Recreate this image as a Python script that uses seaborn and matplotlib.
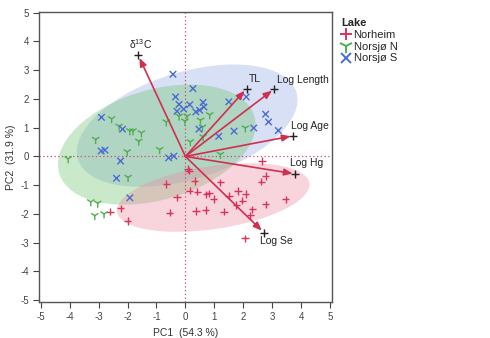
import numpy as np
import pandas as pd
import matplotlib
matplotlib.use("Agg")
import matplotlib.pyplot as plt
from matplotlib.patches import Ellipse
import seaborn as sns

# PCA scores per lake
norheim_pc1 = [2.64, 0.12, 2.77, 2.62, 0.32, 1.21, 0.15, 0.41, 0.72, 0.81, 0.98, 1.50, 1.81, 2.08,
               1.97, 1.76, 2.31, 2.24, 0.36, 0.70, 1.33, 2.77, 3.46, 2.06, -0.66, -0.29, -2.61,
               -2.24, -2.00, -0.54, 0.09]
norheim_pc2 = [-0.16, -0.50, -0.68, -0.88, -0.86, -0.90, -1.19, -1.23, -1.32, -1.28, -1.48, -1.37,
               -1.20, -1.31, -1.54, -1.69, -1.84, -2.05, -1.90, -1.86, -1.92, -1.67, -1.49, -2.85,
               -0.96, -1.42, -1.92, -1.81, -2.25, -1.96, -0.44]

norsjo_n_pc1 = [-2.55, -2.29, -1.92, -1.81, -1.52, -1.61, -3.10, -2.01, -0.89, -0.66, -0.22, 0.06,
                -4.05, -0.02, 0.52, 0.84, 0.59, 0.17, 0.61, 2.07, 1.21, -1.98, -3.27, -3.03,
                -3.13, -2.81]
norsjo_n_pc2 = [1.31, 1.05, 0.89, 0.89, 0.82, 0.53, 0.59, 0.16, 0.24, 1.20, 1.40, 1.40,
                -0.08, 1.23, 1.26, 1.45, 1.02, 0.51, 0.68, 0.99, 0.07, -0.73, -1.58, -1.63,
                -2.06, -2.00]

norsjo_s_pc1 = [-0.43, -0.34, -0.22, -0.06, -0.29, 0.15, 0.61, 0.36, 0.49, 0.64, 1.50, 0.26,
                2.10, -2.90, -2.17, -2.91, -2.78, -0.58, -0.40, -2.24, 0.47, 1.15, 1.68, 2.36,
                2.77, 2.87, 3.21, -2.38, -1.92]
norsjo_s_pc2 = [2.86, 2.07, 1.81, 1.65, 1.57, 1.80, 1.88, 1.55, 1.61, 1.72, 1.90, 2.36,
                2.07, 1.36, 0.95, 0.19, 0.22, -0.05, 0.01, -0.16, 0.95, 0.70, 0.88, 0.99,
                1.47, 1.20, 0.90, -0.76, -1.44]

# Density ellipses per lake: centre, full axis lengths, rotation (deg)
ellipse_lakes = ["Norsjø S", "Norsjø N", "Norheim"]
ellipse_cx = [0.06, -0.99, 0.96]
ellipse_cy = [1.07, 0.41, -1.43]
ellipse_w = [7.90, 7.03, 6.72]
ellipse_h = [3.72, 3.83, 2.19]
ellipse_angle = [17.3, 16.5, 8.6]

# Variable loadings (biplot rays)
var_names = ["δ$^{13}$C", "TL", "Log Length", "Log Age", "Log Hg", "Log Se"]
load_pc1 = [-1.63, 2.11, 3.07, 3.73, 3.80, 2.71]
load_pc2 = [3.52, 2.36, 2.35, 0.72, -0.61, -2.65]

lakes = ["Norheim", "Norsjø N", "Norsjø S"]
lake_colors = {"Norheim": "#d8345c", "Norsjø N": "#4fae4f", "Norsjø S": "#4a6bd0"}
fill_colors = {"Norheim": "#ec8aa0", "Norsjø N": "#6cc46c", "Norsjø S": "#93a9e6"}
lake_markers = {"Norheim": "+", "Norsjø N": "1", "Norsjø S": "x"}
lake_sizes = {"Norheim": 28, "Norsjø N": 42, "Norsjø S": 22}

df = pd.concat([
    pd.DataFrame({"PC1": norheim_pc1, "PC2": norheim_pc2, "Lake": "Norheim"}),
    pd.DataFrame({"PC1": norsjo_n_pc1, "PC2": norsjo_n_pc2, "Lake": "Norsjø N"}),
    pd.DataFrame({"PC1": norsjo_s_pc1, "PC2": norsjo_s_pc2, "Lake": "Norsjø S"}),
], ignore_index=True)

sns.set_style("ticks")
plt.rcParams["font.family"] = ["Liberation Sans", "DejaVu Sans"]
plt.rcParams["mathtext.fontset"] = "custom"
plt.rcParams["mathtext.rm"] = "Liberation Sans"
plt.rcParams["mathtext.it"] = "Liberation Sans:italic"
plt.rcParams["axes.unicode_minus"] = False

fig = plt.figure(figsize=(4.9, 3.38), dpi=100)
ax = fig.add_axes([0.080, 0.107, 0.598, 0.857])

for lake, cx, cy, w, h, ang in zip(ellipse_lakes, ellipse_cx, ellipse_cy,
                                   ellipse_w, ellipse_h, ellipse_angle):
    ax.add_patch(Ellipse((cx, cy), w, h, angle=ang, facecolor=fill_colors[lake],
                         edgecolor="none", alpha=0.36, zorder=1))

ax.axhline(0, color="#d04a6a", lw=0.9, ls=(0, (1, 2)), zorder=2)
ax.axvline(0, color="#d04a6a", lw=0.9, ls=(0, (1, 2)), zorder=2)

sns.scatterplot(data=df, x="PC1", y="PC2", hue="Lake", style="Lake", size="Lake",
                hue_order=lakes, style_order=lakes, size_order=lakes,
                palette=lake_colors, markers=lake_markers, sizes=lake_sizes, linewidth=1.0,
                legend=False, ax=ax, zorder=3)

ray_color = "#d0304f"
for name, lx, ly in zip(var_names, load_pc1, load_pc2):
    ax.annotate("", xy=(lx, ly), xytext=(0, 0),
                arrowprops=dict(arrowstyle="-|>,head_length=0.5,head_width=0.2",
                                color=ray_color, lw=1.2, shrinkA=0, shrinkB=2),
                zorder=4)
ax.scatter(load_pc1, load_pc2, marker="+", color="#222222", s=36, linewidth=1.0, zorder=5)

label_offsets = {
    "δ$^{13}$C": (0.08, 0.15, "center", "bottom"),
    "TL": (0.08, 0.15, "left", "bottom"),
    "Log Length": (0.08, 0.13, "left", "bottom"),
    "Log Age": (-0.1, 0.18, "left", "bottom"),
    "Log Hg": (-0.2, 0.2, "left", "bottom"),
    "Log Se": (-0.15, -0.12, "left", "top"),
}
for name, lx, ly in zip(var_names, load_pc1, load_pc2):
    dx, dy, ha, va = label_offsets[name]
    ax.text(lx + dx, ly + dy, name, ha=ha, va=va, fontsize=7.5, color="#222222", zorder=6)

ax.set_xlim(-5.05, 5.07)
ax.set_ylim(-5.06, 5.02)
ax.set_xticks(range(-5, 6))
ax.set_yticks(range(-5, 6))
ax.tick_params(labelsize=7, colors="#444444", length=4, width=0.8, direction="out")
for sp in ax.spines.values():
    sp.set_visible(True)
    sp.set_color("#555555")
    sp.set_linewidth(1.0)
ax.set_xlabel("PC1  (54.3 %)", fontsize=7.5, color="#333333", labelpad=4)
ax.set_ylabel("PC2  (31.9 %)", fontsize=7.5, color="#333333", labelpad=3)

legend_msize = {"Norheim": 8, "Norsjø N": 10, "Norsjø S": 7}
handles = [plt.Line2D([], [], ls="none", marker=lake_markers[l], color=lake_colors[l],
                      markersize=legend_msize[l], markeredgewidth=1.4) for l in lakes]
leg = fig.legend(handles, lakes, title="Lake", loc="upper left",
                 bbox_to_anchor=(0.692, 0.952), frameon=False, fontsize=8,
                 title_fontsize=8, handlelength=0.8, handletextpad=0.3,
                 labelspacing=0.15, borderpad=0.2, borderaxespad=0)
leg.get_title().set_fontweight("bold")
leg._legend_box.align = "left"

fig.savefig("out.png", dpi=100)
